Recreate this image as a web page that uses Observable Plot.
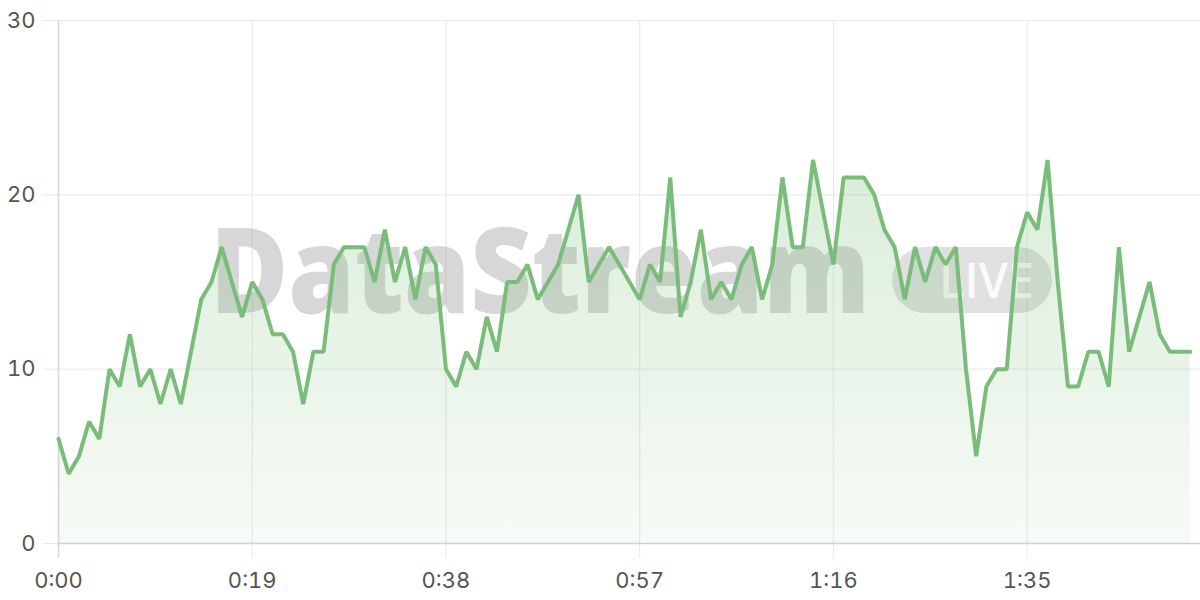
<!DOCTYPE html>
<html>
<head>
<meta charset="utf-8">
<script src="https://cdn.jsdelivr.net/npm/d3@7"></script>
<script src="https://cdn.jsdelivr.net/npm/@observablehq/plot@0.6"></script>
<style>
  html, body { margin: 0; padding: 0; background: #fff; }
  #chart svg { display: block; overflow: visible; }
</style>
</head>
<body>
<div id="chart"></div>
<script>
// Values per second (0:00 .. 1:51)
const values = [6,4,5,7,6,10,9,12,9,10,8,10,8,11,14,15,17,15,13,15,14,12,12,11,8,11,11,16,17,17,17,15,18,15,17,14,17,16,10,9,11,10,13,11,15,15,16,14,15,16,18,20,15,16,17,16,15,14,16,15,21,13,15,18,14,15,14,16,17,14,16,21,17,17,22,19,16,21,21,21,20,18,17,14,17,15,17,16,17,10,5,9,10,10,17,19,18,22,15,9,9,11,11,9,17,11,13,15,12,11,11,11];
const xTicks = [0, 19, 38, 57, 76, 95];
const yTicks = [0, 10, 20, 30];
const watermarkText = "DataStream";
const badgeText = "LIVE";

const data = values.map((v, i) => ({t: i, v}));
const fmt = s => `${Math.floor(s / 60)}:${String(s % 60).padStart(2, "0")}`;

const lineColor = "#7abd7a";

const gradient = () => {
  const defs = d3.create("svg:defs");
  const g = defs.append("linearGradient").attr("id", "areaGrad")
    .attr("x1", 0).attr("y1", 0).attr("x2", 0).attr("y2", 1);
  g.append("stop").attr("offset", "0%").attr("stop-color", lineColor).attr("stop-opacity", 0.28);
  g.append("stop").attr("offset", "100%").attr("stop-color", lineColor).attr("stop-opacity", 0.06);
  return defs.node();
};

const watermark = (index, scales, vals, dims) => {
  const ml = dims.marginLeft, mt = dims.marginTop;
  const g = d3.create("svg:g").attr("pointer-events", "none").attr("text-anchor", "start");
  g.append("text")
    .attr("x", ml + 152).attr("y", mt + 293)
    .attr("text-anchor", "start")
    .attr("font-family", "'Open Sans', 'Noto Sans', sans-serif")
    .attr("font-weight", 800)
    .attr("font-size", 119)
    .attr("textLength", 660)
    .attr("lengthAdjust", "spacingAndGlyphs")
    .attr("fill", "#8f8f8f").attr("fill-opacity", 0.36)
    .text(watermarkText);
  g.append("rect")
    .attr("x", ml + 834).attr("y", mt + 227)
    .attr("width", 160).attr("height", 66)
    .attr("rx", 33)
    .attr("fill", "#8f8f8f").attr("fill-opacity", 0.28);
  g.append("text")
    .attr("x", ml + 881).attr("y", mt + 278)
    .attr("text-anchor", "start")
    .attr("font-family", "'Open Sans', 'Noto Sans', sans-serif")
    .attr("font-weight", 600)
    .attr("font-size", 49)
    .attr("textLength", 95)
    .attr("lengthAdjust", "spacingAndGlyphs")
    .attr("fill", "#ffffff").attr("fill-opacity", 0.85)
    .text(badgeText);
  return g.node();
};

const chart = Plot.plot({
  width: 1200,
  height: 600,
  marginLeft: 58,
  marginRight: 0,
  marginTop: 20,
  marginBottom: 57,
  style: {fontFamily: "Inter, 'Open Sans', sans-serif", fontSize: "22px", color: "#555", background: "#fff"},
  x: {domain: [0, 112], ticks: xTicks, tickFormat: fmt},
  y: {domain: [0, 30], ticks: yTicks},
  marks: [
    gradient,
    Plot.gridY({ticks: yTicks, stroke: "#ebebeb", strokeOpacity: 1, strokeWidth: 1.2}),
    Plot.gridX({ticks: xTicks, stroke: "#ebebeb", strokeOpacity: 1, strokeWidth: 1.2}),
    Plot.axisY({ticks: yTicks, tickSize: 15, tickPadding: 8, stroke: "#ebebeb", fill: "#555", label: null}),
    Plot.axisX({ticks: xTicks, tickFormat: fmt, tickSize: 15, tickPadding: 14, stroke: "#ebebeb", fill: "#555", label: null}),
    Plot.ruleX([0], {stroke: "#d6d6d6", strokeWidth: 1.5, insetBottom: -15}),
    Plot.ruleY([0], {stroke: "#d0d0d0", strokeWidth: 1.5}),
    watermark,
    Plot.areaY(data, {x: "t", y: "v", fill: "url(#areaGrad)"}),
    Plot.lineY(data, {x: "t", y: "v", stroke: lineColor, strokeWidth: 4, strokeLinejoin: "miter"})
  ]
});
document.getElementById("chart").appendChild(chart);
</script>
</body>
</html>
